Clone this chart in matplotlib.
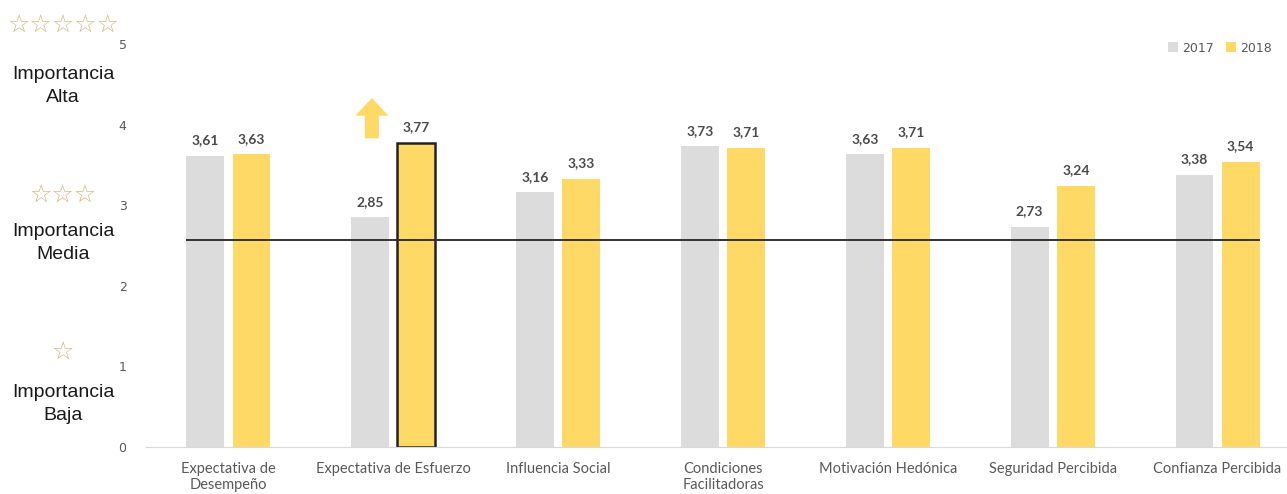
import matplotlib.pyplot as plt
import numpy as np

categories = ["Expectativa de\nDesempeño", "Expectativa de Esfuerzo", "Influencia Social",
              "Condiciones\nFacilitadoras", "Motivación Hedónica", "Seguridad Percibida",
              "Confianza Percibida"]
vals_2017 = [3.61, 2.85, 3.16, 3.73, 3.63, 2.73, 3.38]
vals_2018 = [3.63, 3.77, 3.33, 3.71, 3.71, 3.24, 3.54]
years = ["2017", "2018"]
highlight = 1          # group whose 2018 bar gets the outline + arrow
ref_level = 2.57       # horizontal reference line

GREY = "#dcdcdc"
GOLD = "#ffd966"
TXT = "#595959"

fig = plt.figure(figsize=(12.87, 4.94), dpi=100)
ax = fig.add_axes([146 / 1287, 47 / 494, 1154 / 1287, 403 / 494])

x = np.arange(len(categories))
w = 0.23
off = 0.14
b17 = ax.bar(x - off, vals_2017, w, color=GREY, label=years[0])
b18 = ax.bar(x + off, vals_2018, w, color=GOLD, label=years[1])
b18[highlight].set_edgecolor("#222222")
b18[highlight].set_linewidth(1.8)

for bars, vals in ((b17, vals_2017), (b18, vals_2018)):
    for b, v in zip(bars, vals):
        ax.text(b.get_x() + b.get_width() / 2, v + 0.12, f"{v:.2f}".replace(".", ","),
                ha="center", va="bottom", fontsize=10, fontweight="bold",
                color="#4a4a4a", family="Lato")

ax.hlines(ref_level, x[0] - off - w / 2, x[-1] + off + w / 2, color="#333333", lw=1.4, zorder=5)

# up arrow next to the highlighted group
ax.add_patch(plt.matplotlib.patches.FancyArrow(
    highlight - 0.13, 3.83, 0, 0.5, width=0.085, head_width=0.2, head_length=0.22,
    length_includes_head=True, color=GOLD, lw=0))

ax.set_xlim(-0.5, len(categories) - 0.5)
ax.set_ylim(0, 5)
ax.set_yticks(range(6))
ax.tick_params(axis="y", length=0, pad=14, labelsize=9, labelcolor=TXT)
ax.set_xticks(x)
ax.set_xticklabels(categories, fontsize=10.5, color=TXT, family="Lato", va="top")
ax.tick_params(axis="x", length=0, pad=11)
for lab in ax.get_xticklabels():
    lab.set_linespacing(1.2)
for s in ("top", "right", "left"):
    ax.spines[s].set_visible(False)
ax.spines["bottom"].set_color("#d9d9d9")

# level labels on the left
star = "#d4bb85"
levels = [("☆☆☆☆☆", 26, "Importancia\nAlta", 86),
          ("☆☆☆", 196, "Importancia\nMedia", 243),
          ("☆", 353, "Importancia\nBaja", 404)]
for stars, sy, label, ly in levels:
    fig.text(63 / 1287, 1 - sy / 494, stars, ha="center", va="center",
             fontsize=18, color=star, family="DejaVu Sans")
    fig.text(63 / 1287, 1 - ly / 494, label, ha="center", va="center",
             fontsize=14, color="#1a1a1a", family="Liberation Sans", linespacing=1.42)

fig.legend(handles=[b17, b18], labels=years, loc="center right",
           bbox_to_anchor=(0.997, 1 - 48 / 494), ncol=2, frameon=False,
           fontsize=9, handlelength=0.8, handleheight=0.8, handletextpad=0.3,
           columnspacing=1.0, labelcolor=TXT)

fig.savefig("out.png", dpi=100)
